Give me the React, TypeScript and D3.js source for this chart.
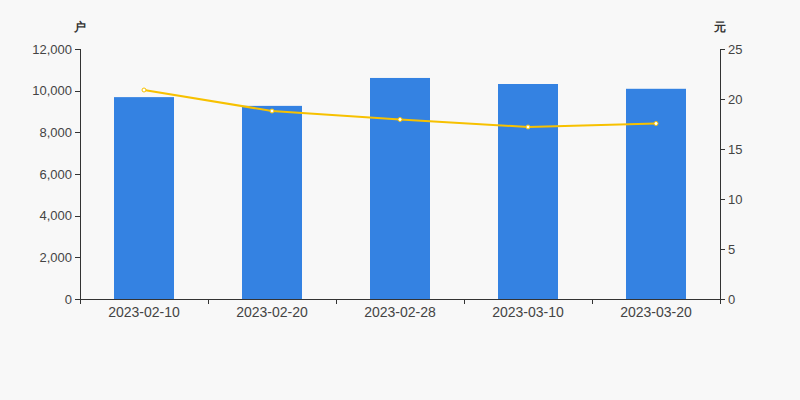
import React from "react";
import * as d3 from "d3";

const categories = ["2023-02-10", "2023-02-20", "2023-02-28", "2023-03-10", "2023-03-20"];
const holders = [9690, 9270, 10610, 10320, 10090];
const prices = [20.9, 18.8, 17.95, 17.2, 17.55];
const leftTicks = [0, 2000, 4000, 6000, 8000, 10000, 12000];
const rightTicks = [0, 5, 10, 15, 20, 25];

const W = 800, H = 400;
const M = { left: 80, right: 720, top: 49, bottom: 299 };

export default function App() {
  const x = d3.scaleBand<string>().domain(categories).range([M.left, M.right]);
  const yL = d3.scaleLinear().domain([0, 12000]).range([M.bottom, M.top]);
  const yR = d3.scaleLinear().domain([0, 25]).range([M.bottom, M.top]);
  const barW = 60;
  const fmt = d3.format(",");
  const line = d3.line<number>()
    .x((_, i) => x(categories[i])! + x.bandwidth() / 2)
    .y((d) => yR(d));
  const font = "'Liberation Sans', Arial, sans-serif";
  const textColor = "#444";
  const axisColor = "#333";
  return (
    <svg width={W} height={H} style={{ position: "absolute", left: 0, top: 0, background: "#f8f8f8" }} fontFamily={font}>
      <rect x={0} y={0} width={W} height={H} fill="#f8f8f8" />
      {categories.map((c, i) => (
        <rect key={c} x={x(c)! + x.bandwidth() / 2 - barW / 2} y={yL(holders[i])} width={barW}
          height={M.bottom - yL(holders[i])} fill="#3482e2" />
      ))}
      <path d={line(prices)!} fill="none" stroke="#f7c100" strokeWidth={2} />
      {prices.map((p, i) => (
        <circle key={i} cx={x(categories[i])! + x.bandwidth() / 2} cy={yR(p)} r={2}
          fill="#fff" stroke="#f7c100" strokeWidth={1} />
      ))}
      {/* left axis */}
      <line x1={M.left + 0.5} x2={M.left + 0.5} y1={M.top} y2={M.bottom} stroke={axisColor} />
      {leftTicks.map((t) => (
        <g key={t}>
          <line x1={M.left - 5} x2={M.left} y1={Math.round(yL(t)) + 0.5} y2={Math.round(yL(t)) + 0.5} stroke={axisColor} />
          <text x={M.left - 8} y={yL(t)} dy="0.35em" textAnchor="end" fontSize={13} fill={textColor}>{fmt(t)}</text>
        </g>
      ))}
      <text x={80} y={31} textAnchor="middle" fontSize={12} fontWeight="bold" fill="#333">户</text>
      {/* right axis */}
      <line x1={M.right + 0.5} x2={M.right + 0.5} y1={M.top} y2={M.bottom} stroke={axisColor} />
      {rightTicks.map((t) => (
        <g key={t}>
          <line x1={M.right} x2={M.right + 5} y1={Math.round(yR(t)) + 0.5} y2={Math.round(yR(t)) + 0.5} stroke={axisColor} />
          <text x={M.right + 8} y={yR(t)} dy="0.35em" textAnchor="start" fontSize={13} fill={textColor}>{t}</text>
        </g>
      ))}
      <text x={720} y={31} textAnchor="middle" fontSize={12} fontWeight="bold" fill="#333">元</text>
      {/* bottom axis */}
      <line x1={M.left} x2={M.right + 1} y1={M.bottom + 0.5} y2={M.bottom + 0.5} stroke={axisColor} />
      {[...categories.map((c) => x(c)!), M.right].map((v, i) => (
        <line key={i} x1={Math.round(v) + 0.5} x2={Math.round(v) + 0.5} y1={M.bottom} y2={M.bottom + 5} stroke={axisColor} />
      ))}
      {categories.map((c) => (
        <text key={c} x={x(c)! + x.bandwidth() / 2} y={M.bottom + 18} textAnchor="middle" fontSize={14} fill={textColor}>{c}</text>
      ))}
    </svg>
  );
}
